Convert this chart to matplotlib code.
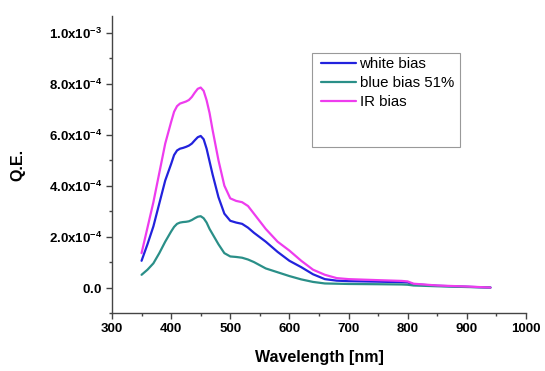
import math
import matplotlib
matplotlib.use("Agg")
import matplotlib.pyplot as plt
from matplotlib.ticker import MultipleLocator, FuncFormatter
from matplotlib.patches import Rectangle

plt.rcParams['font.family'] = ['Liberation Sans', 'DejaVu Sans']
plt.rcParams['mathtext.fontset'] = 'custom'
plt.rcParams['mathtext.rm'] = 'Liberation Sans'
plt.rcParams['mathtext.bf'] = 'Liberation Sans:bold'

# Quantum efficiency spectra under different optical bias conditions (x1e-4)
wavelength = [350, 360, 370, 380, 390, 400, 405, 410, 415, 420, 425, 430, 435,
              440, 445, 450, 455, 460, 465, 470, 480, 490, 500, 510, 520, 530,
              540, 560, 580, 600, 620, 640, 660, 680, 700, 750, 790, 800, 810,
              850, 900, 940]

white_bias = [1.05, 1.7, 2.4, 3.3, 4.2, 4.85, 5.2, 5.38, 5.45, 5.48, 5.52, 5.57, 5.65,
              5.78, 5.9, 5.95, 5.82, 5.45, 4.95, 4.45, 3.55, 2.9, 2.62, 2.55, 2.5, 2.35,
              2.15, 1.8, 1.4, 1.05, 0.8, 0.52, 0.33, 0.27, 0.25, 0.23, 0.21, 0.2, 0.13,
              0.07, 0.03, 0.0]

blue_bias = [0.5, 0.7, 0.95, 1.35, 1.8, 2.2, 2.38, 2.5, 2.55, 2.57, 2.58, 2.6, 2.65,
             2.72, 2.78, 2.8, 2.72, 2.55, 2.3, 2.1, 1.7, 1.35, 1.22, 1.2, 1.17, 1.1,
             1.0, 0.75, 0.6, 0.45, 0.32, 0.22, 0.16, 0.15, 0.14, 0.13, 0.12, 0.11, 0.08,
             0.05, 0.02, 0.0]

ir_bias = [1.35, 2.35, 3.35, 4.5, 5.65, 6.5, 6.9, 7.12, 7.22, 7.26, 7.3, 7.36, 7.48,
           7.65, 7.8, 7.85, 7.72, 7.35, 6.85, 6.2, 5.0, 4.0, 3.5, 3.4, 3.35, 3.2,
           2.9, 2.3, 1.8, 1.45, 1.05, 0.7, 0.5, 0.37, 0.33, 0.29, 0.26, 0.24, 0.15,
           0.08, 0.04, 0.0]

series = [
    ("white bias", white_bias, "#2222dd"),
    ("blue bias 51%", blue_bias, "#2a8f88"),
    ("IR bias", ir_bias, "#ee3cee"),
]

fig = plt.figure(figsize=(5.45, 3.71), dpi=100)
ax = fig.add_axes([0.2055, 0.1563, 0.7595, 0.8007])

for label, vals, color in series:
    ax.plot(wavelength, [v * 1e-4 for v in vals], color=color, lw=1.6,
            label=label, solid_joinstyle='round', solid_capstyle='round')

ax.set_xlim(300, 1000)
ax.set_ylim(-1.0e-4, 1.066e-3)

ax.xaxis.set_major_locator(MultipleLocator(100))
ax.xaxis.set_minor_locator(MultipleLocator(50))
ax.yaxis.set_major_locator(MultipleLocator(2e-4))
ax.yaxis.set_minor_locator(MultipleLocator(1e-4))


def qe_fmt(v, pos):
    if abs(v) < 1e-12:
        return r'$\mathbf{0.0}$'
    exp = int(math.floor(math.log10(abs(v)) + 1e-9))
    mant = v / 10 ** exp
    return r'$\mathbf{%.1fx10^{%d}}$' % (mant, exp)


ax.yaxis.set_major_formatter(FuncFormatter(qe_fmt))

ax.tick_params(axis='both', which='major', direction='out', length=4, width=1,
               color='#444444', labelsize=9.5, pad=3)
ax.tick_params(axis='both', which='minor', direction='out', length=2.5, width=1,
               color='#444444')
for t in ax.get_xticklabels():
    t.set_fontweight('bold')

for side in ('top', 'right'):
    ax.spines[side].set_visible(False)
for side in ('left', 'bottom'):
    ax.spines[side].set_color('#444444')
    ax.spines[side].set_linewidth(1)

ax.set_xlabel('Wavelength [nm]', fontsize=11.5, fontweight='bold', labelpad=11)
ax.set_ylabel('Q.E.', fontsize=11.5, fontweight='bold', labelpad=17)

leg = ax.legend(loc='upper left', bbox_to_anchor=(319 / 545, 1 - 56 / 371),
                bbox_transform=fig.transFigure, frameon=False, fontsize=10.8,
                handlelength=2.35, handletextpad=0.25, labelspacing=0.33,
                borderpad=0.1, borderaxespad=0)

fig.patches.append(Rectangle((312 / 545, 1 - 147 / 371), 148 / 545, 94 / 371,
                             transform=fig.transFigure, fill=False,
                             edgecolor='#999999', lw=0.8))

fig.savefig('out.png', dpi=100)
